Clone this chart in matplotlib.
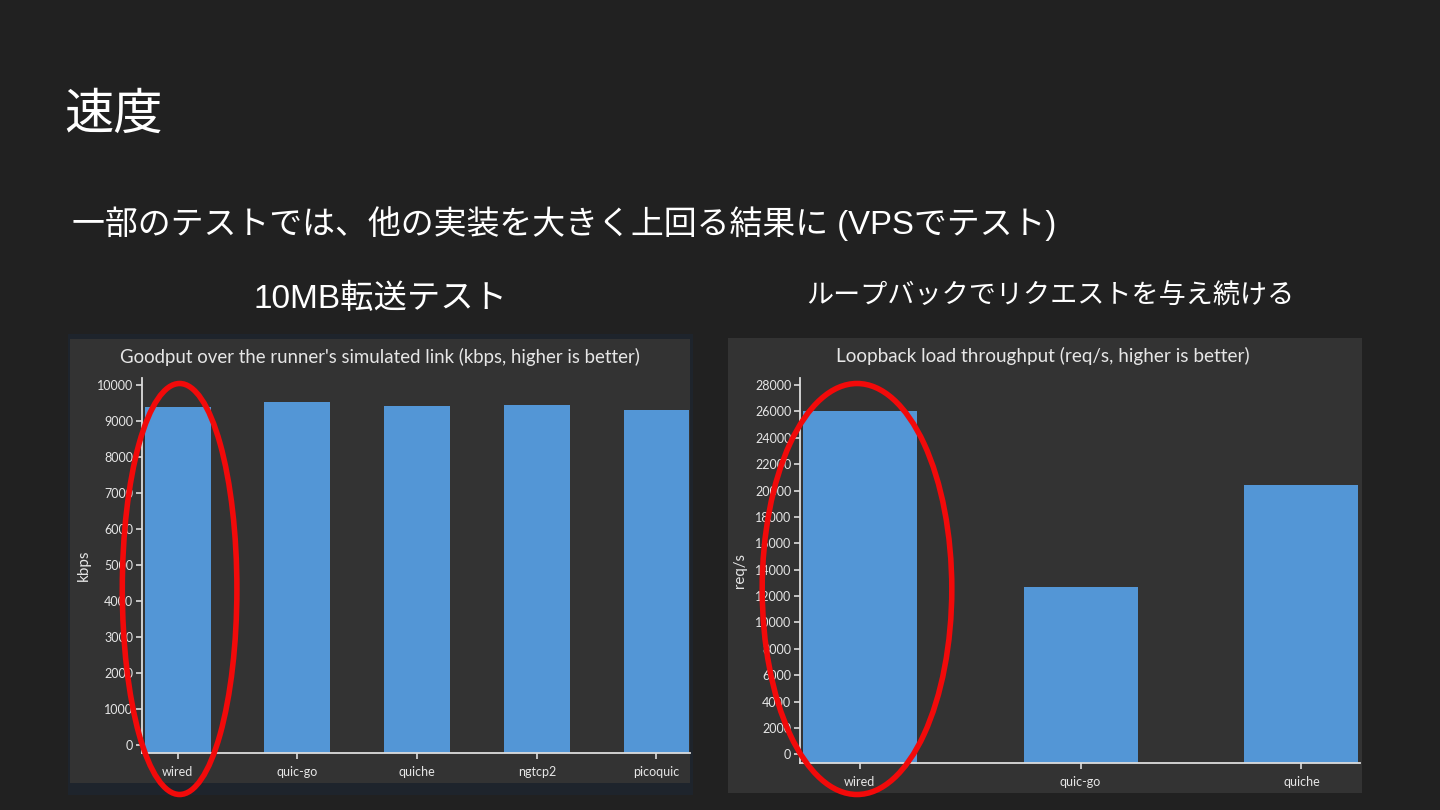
import numpy as np
import matplotlib
matplotlib.use("Agg")
import matplotlib.pyplot as plt
from matplotlib.patches import Rectangle, Ellipse

# data
goodput_impls = ["wired", "quic-go", "quiche", "ngtcp2", "picoquic"]
goodput_kbps = [9400, 9520, 9410, 9430, 9300]

loop_impls = ["wired", "quic-go", "quiche"]
loop_reqs = [26050, 12700, 20400]

W, H = 1440, 810
BG = "#212121"
PANEL = "#333333"
BAR = "#5396d6"
AXC = "#dddddd"
JP = ["Liberation Sans", "Noto Sans CJK JP"]
CHART_FONT = ["Lato", "DejaVu Sans"]


def frac(x0, y0, x1, y1):
    # pixel box (top-left origin) -> figure fraction rect
    return [x0 / W, 1 - y1 / H, (x1 - x0) / W, (y1 - y0) / H]


def box(x0, y0, x1, y1, color, z=0):
    l, b, w, h = frac(x0, y0, x1, y1)
    fig.add_artist(Rectangle((l, b), w, h, transform=fig.transFigure,
                             facecolor=color, edgecolor="none", zorder=z))


def ring(cx, cy, w, h):
    fig.add_artist(Ellipse((cx / W, 1 - cy / H), w / W, h / H,
                           transform=fig.transFigure, fill=False,
                           edgecolor="#f20a0a", lw=4, zorder=10))


def bar_chart(ax, names, vals, width, xlim, ylim, yticks):
    x = np.arange(len(names))
    floor = ylim[0]
    ax.bar(x, np.array(vals) - floor, bottom=floor, width=width, color=BAR)
    ax.set_xlim(*xlim)
    ax.set_ylim(*ylim)
    ax.set_facecolor("none")
    ax.set_xticks(x)
    ax.set_xticklabels(names)
    ax.set_yticks(yticks)
    for s in ["top", "right"]:
        ax.spines[s].set_visible(False)
    for s in ["left", "bottom"]:
        ax.spines[s].set_color(AXC)
        ax.spines[s].set_linewidth(1.3)
    ax.tick_params(axis="x", colors=AXC, length=4, width=1.2, pad=5)
    ax.tick_params(axis="y", colors=AXC, length=4, width=1.2, pad=2)
    for lab in ax.get_xticklabels() + ax.get_yticklabels():
        lab.set_family(CHART_FONT)
        lab.set_fontsize(9)
        lab.set_color("#e6e6e6")


fig = plt.figure(figsize=(W / 100, H / 100), dpi=100, facecolor=BG)

# screenshot panels
box(68, 334, 693, 795, "#1e242c")
box(70, 339, 690, 783, PANEL)
box(728, 338, 1362, 793, PANEL)

# slide text
fig.text(64 / W, 1 - 116 / H, "速度", family=JP, fontsize=35.5, color="white",
         va="center", ha="left")
fig.text(72 / W, 1 - 224 / H, "一部のテストでは、他の実装を大きく上回る結果に (VPSでテスト)",
         family=JP, fontsize=23.7, color="white", va="center", ha="left")
fig.text(381 / W, 1 - 299 / H, "10MB転送テスト", family=JP, fontsize=24,
         color="white", va="center", ha="center")
fig.text(1050 / W, 1 - 297 / H, "ループバックでリクエストを与え続ける", family=JP,
         fontsize=19.5, color="white", va="center", ha="center")

# left chart
ax1 = fig.add_axes(frac(141.7, 378.3, 690, 753.3))
bar_chart(ax1, goodput_impls, goodput_kbps, 0.55, (-0.30, 4.28),
          (-231, 10185), np.arange(0, 10001, 1000))
fig.text(380 / W, 1 - 357 / H,
         "Goodput over the runner's simulated link (kbps, higher is better)",
         family=CHART_FONT, fontsize=13.4, color="#e6e6e6", ha="center", va="center")
fig.text(84 / W, 1 - 565 / H, "kbps", family=CHART_FONT, fontsize=11,
         color="#e6e6e6", rotation=90, ha="center", va="center")

# right chart
ax2 = fig.add_axes(frac(799.7, 378.3, 1360, 763.3))
bar_chart(ax2, loop_impls, loop_reqs, 0.516, (-0.271, 2.265),
          (-682, 28508), np.arange(0, 28001, 2000))
fig.text(1043 / W, 1 - 356 / H,
         "Loopback load throughput (req/s, higher is better)",
         family=CHART_FONT, fontsize=13.6, color="#e6e6e6", ha="center", va="center")
fig.text(740 / W, 1 - 570 / H, "req/s", family=CHART_FONT, fontsize=10.8,
         color="#e6e6e6", rotation=90, ha="center", va="center")

# red highlight rings
ring(179.6, 589, 114.6, 411)
ring(857, 589, 189.6, 411)

fig.savefig("out.png", dpi=100, facecolor=BG)
